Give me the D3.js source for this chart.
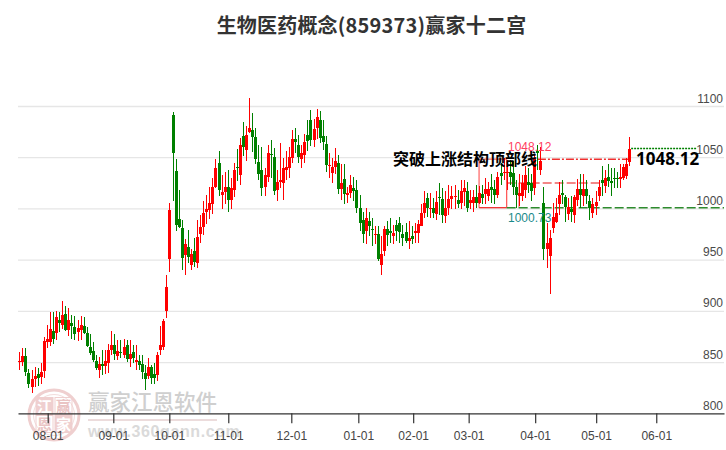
<!DOCTYPE html>
<html><head><meta charset="utf-8">
<script src="https://cdn.jsdelivr.net/npm/d3@7/dist/d3.min.js"></script>
<style>html,body{margin:0;padding:0;background:#fff}svg{display:block}</style>
</head><body><svg id="c" width="726" height="450"></svg>
<script>
const chartTitle = "生物医药概念(859373)赢家十二宫";
const opens  = [850,850,856,839,826,833,838,835,841,870,870,880,878,891,886,897,881,888,884,879,881,885,878,865,861,851,842,848,846,849,862,867,856,860,857,867,853,860,850,851,848,839,836,845,838,837,862,865,900,951,1091,1037,990,981,955,962,945,958,947,975,982,997,998,1004,1021,1044,1013,1016,1021,1008,1018,1040,1033,1071,1057,1075,1077,1070,1045,1038,1021,1031,1053,1050,1018,1026,1025,1038,1039,1049,1068,1062,1048,1052,1072,1086,1067,1079,1086,1071,1063,1042,1035,1040,1044,1019,1029,1013,1015,1020,1018,1000,989,978,988,980,974,975,945,958,980,978,973,984,986,975,977,968,973,976,976,983,996,1010,1000,1000,995,1011,1009,993,1000,1009,1012,1008,1005,1016,1017,1005,1005,1011,1005,1014,1014,1012,1021,1019,1013,1035,1035,1035,1036,1035,1021,1012,1012,1018,1026,1025,1020,1056,1038,1005,960,954,981,987,1004,1015,1011,995,999,994,1008,1019,1012,1019,1007,996,1002,1012,1028,1022,1031,1027,1030,1030,1029,1030,1032,1045];
const closes = [851,856,840,829,833,836,834,840,871,873,882,873,894,888,896,881,891,885,877,883,886,878,866,859,852,844,848,846,851,862,867,858,861,859,865,853,858,854,852,847,840,833,845,834,834,857,867,890,923,998,1054,984,982,952,965,953,956,948,972,982,996,999,1005,1021,1039,1018,1016,1021,1008,1020,1038,1039,1062,1060,1072,1079,1070,1048,1034,1020,1033,1054,1052,1017,1026,1028,1039,1040,1050,1068,1065,1050,1054,1065,1066,1067,1078,1089,1069,1065,1042,1042.5,1040,1046,1019,1025,1014,1015,1023,1017,1000,986,975,991,983,979,975,951,956,980,974,976,976,978,977,971,968,971,970,978,985,996,1005,1000,1000.5,996,1006,1010,994,1000,1009,1012,1012.5,1004,1017,1020,1000,1008,1011,1005,1015,1010,1019,1019,1018,1013,1031,1032,1036,1036,1031,1021,1013,1015,1025,1033,1023,1017,1048,1054,1046,960,966,971,992,996,1013,1013,1001,1001,997,1011,1019,1013,1019,1012,1000,1004,1006,1021,1025,1030,1027,1025,1029.5,1029,1031,1040,1043,1058];
const highs  = [860,864,864,843,842,845,844,849,874,886,899,899,900,899,910,905,903,896,895,891,895,894,884,877,870,857,855,862,862,868,880,877,872,872,873,872,872,867,867,857,857,847,854,847,849,860,885,892,935,1005,1094,1048,1018,989,970,979,960,971,989,994,1007,1013,1021,1030,1048,1056,1033,1036,1038,1030,1044,1058,1069,1084,1080,1108,1093,1079,1062,1060,1039,1062,1067,1059,1038,1064,1049,1056,1060,1077,1079,1072,1062,1073,1086,1096,1087,1097,1095,1086,1071,1054,1049,1059,1052,1043,1043,1021,1033,1031,1028,1013,997,1000,997,991,983,983,973,983,988,991,984,989,992,984,986,988,983,986,989,1004,1017,1015,1015,1010,1017,1025,1020,1017,1023,1022,1023,1018,1028,1028,1026,1018,1018,1023,1022,1023,1030,1026,1034,1028,1036,1044,1049,1047,1047,1046,1028,1034,1033,1041,1039,1034,1052,1062,1060,1021,986,979,1005,1010,1026,1028,1013,1010,1012,1013,1029,1034,1034,1028,1013,1010,1017,1028,1041,1038,1043,1039,1039,1036,1043,1043,1049,1070];
const lows   = [842,846,836,825,820,826,827,829,834,864,866,868,872,879,882,880,875,873,872,871,872,877,865,857,850,842,834,837,838,839,857,852,852,854,854,850,845,849,842,842,833,823,833,829,829,832,857,862,893,938,1007,978,981,940,935,947,940,943,942,966,974,985,990,995,1020,1012,999,1004,997,999,1011,1027,1023,1051,1046,1074,1055,1043,1028,1012,1012,1026,1030,1013,1007,1020,1008,1028,1030,1044,1054,1044,1039,1044,1056,1061,1060,1068,1064,1057,1036,1030,1025,1034,1014,1008,1004,1005,1010,1007,996,978,966,965,973,963,965,949,935,954,963,966,965,968,966,963,966,960,965,966,966,983,991,992,991,991,989,994,986,986,994,999,999,1000,999,1002,997,999,997,1000,1004,1004,1004,1007,1005,1004,1010,1023,1028,1018,1023,1013,1000,1002,1007,1010,1015,1007,1013,1038,1033,950,942,916,976,986,994,1004,987,989,987,986,1002,1000,1002,1004,989,991,994,1007,1012,1015,1021,1012,1020,1020,1020,1028,1029,1041];
const xTickIndex  = [9.27,30.67,48.94,68.18,88.74,110.6,128.5,146.6,168.3,188.2,207.8];
const xTickLabels = ["08-01","09-01","10-01","11-01","12-01","01-01","02-01","03-01","04-01","05-01","06-01"];
const yTicks = [800,850,900,950,1000,1050,1100];
const topLevel = 1048.12, midLevel = 1024.8, bottomLevel = 1000.73, lastLevel = 1058.5;
const callout = "突破上涨结构顶部线";
const sealChars = ["江","赢","恩","家"];

const svg = d3.select("#c");
const x = d3.scaleLinear().domain([-0.42,229.9]).range([18,724]);
const y = d3.scaleLinear().domain([800,1100]).range([413.3,106]);
const sans = "'Liberation Sans',Arial,sans-serif", cjk = "'Noto Sans CJK SC',sans-serif";

// watermark
const wm = svg.append("g");
const sx = 54, sy = 415;
wm.append("circle").attr("cx",sx).attr("cy",sy).attr("r",25).attr("fill","none").attr("stroke","#efcfcf").attr("stroke-width",3);
wm.append("circle").attr("cx",sx).attr("cy",sy).attr("r",20.5).attr("fill","none").attr("stroke","#f3dcdc").attr("stroke-width",1);
sealChars.forEach((ch,i)=>{
  const cx = sx + (i%2 ? 9.5 : -9.5), cy = sy + (i<2 ? -9 : 9);
  wm.append("rect").attr("x",cx-8.5).attr("y",cy-8.5).attr("width",17).attr("height",17).attr("fill",i%3? "none":"#efcfcf").attr("stroke","#efcfcf");
  wm.append("text").attr("x",cx).attr("y",cy+5.5).attr("text-anchor","middle").attr("font-family",cjk).attr("font-size",15).attr("font-weight",700).attr("fill",i%3?"#eac4c4":"#fff").text(ch);
});
wm.append("text").attr("x",88).attr("y",410).attr("font-family",cjk).attr("font-size",21.5).attr("font-weight",500).attr("fill","#cfcfcf").text("赢家江恩软件");
wm.append("line").attr("x1",88).attr("x2",217).attr("y1",420).attr("y2",420).attr("stroke","#ecdcdc").attr("stroke-width",2);
wm.append("text").attr("x",88).attr("y",437).attr("font-family",sans).attr("font-size",16).attr("font-weight",700).attr("letter-spacing",0.6).attr("fill","#dadada").text("www.360gann.com");

// horizontal grid + right labels
const ya = svg.append("g").attr("transform","translate(724,0)")
  .call(d3.axisLeft(y).tickValues(yTicks.slice(1)).tickSize(706).tickFormat(d3.format("d")));
ya.select(".domain").remove();
ya.selectAll("line").attr("stroke","#e6e6e6").attr("stroke-width",1.3);
ya.selectAll("text").remove();
svg.append("g").selectAll("text").data(yTicks).join("text")
  .attr("x",723).attr("y",d=>y(d)-3.4).attr("text-anchor","end")
  .attr("font-family",sans).attr("font-size",12).attr("fill","#4a4a4a").text(d=>d);

// bottom axis
const xa = svg.append("g").attr("transform",`translate(0,${y(800)})`)
  .call(d3.axisBottom(x).tickValues(xTickIndex).tickFormat((d,i)=>xTickLabels[i]).tickSize(10).tickSizeOuter(0));
xa.select(".domain").attr("stroke","#333").attr("stroke-width",1.2);
xa.selectAll("line").attr("stroke","#333").attr("stroke-width",1.2);
xa.selectAll("text").attr("font-family",sans).attr("font-size",12).attr("fill","#444").attr("dy","0.71em").attr("y",18);

// overlay lines below candles
const ov = svg.append("g");
const L = (i1,v1,i2,v2,col,w,dash,op)=>ov.append("line").attr("x1",x(i1)).attr("x2",x(i2)).attr("y1",y(v1)).attr("y2",y(v2))
  .attr("stroke",col).attr("stroke-width",w).attr("stroke-dasharray",dash||null).attr("opacity",op||1);
L(150,topLevel,159,topLevel,"#ff8080",1.5);
L(150,topLevel,150,bottomLevel,"#ff8080",1.5);
L(159,topLevel,159,bottomLevel,"#ff5050",1.2);
L(150,bottomLevel,159,bottomLevel,"#f03030",1.3);
L(163,midLevel,163,bottomLevel,"#ff8080",1.2);
L(159,midLevel,189.5,midLevel,"#f06060",1.5,"9 3");
L(159,bottomLevel,229.9,bottomLevel,"#2e8b2e",1.5,"9 3");

// candles
const idx = d3.range(opens.length);
const up = i=>closes[i]>=opens[i];
const col = i=>up(i)?"#ff0000":"#008000";
const cx = i=>Math.round(x(i));
const cg = svg.append("g").attr("shape-rendering","crispEdges");
cg.selectAll(".w").data(idx).join("line").attr("class","w")
  .attr("x1",i=>cx(i)+0.5).attr("x2",i=>cx(i)+0.5).attr("y1",i=>y(highs[i])).attr("y2",i=>y(lows[i]))
  .attr("stroke",col).attr("stroke-width",1);
cg.selectAll(".b").data(idx).join("rect").attr("class","b")
  .attr("x",i=>cx(i)-1).attr("width",3)
  .attr("y",i=>y(Math.max(opens[i],closes[i])))
  .attr("height",i=>Math.max(1,Math.abs(y(opens[i])-y(closes[i]))))
  .attr("fill",col);

// overlays above candles
L(169.2,topLevel,199.6,topLevel,"#f03030",1.5,"8 2 2 2");
L(199.6,lastLevel,221,lastLevel,"#008000",1.3,"2 1");

svg.append("text").attr("x",371.5).attr("y",33).attr("text-anchor","middle").attr("font-family",cjk).attr("font-size",20).attr("font-weight",700).attr("letter-spacing",0.2).attr("fill","#333").text(chartTitle);
svg.append("text").attr("x",393).attr("y",165).attr("font-family",cjk).attr("font-size",16).attr("font-weight",700).attr("fill","#000").text(callout);
svg.append("text").attr("x",508).attr("y",151).attr("font-family",sans).attr("font-size",12).attr("fill","#ff4060").text(topLevel.toFixed(2));
svg.append("text").attr("x",508).attr("y",222).attr("font-family",sans).attr("font-size",12).attr("fill","#1a8a8a").text(bottomLevel.toFixed(2));
svg.append("text").attr("x",636).attr("y",165).attr("font-family","'Noto Sans',sans-serif").attr("font-size",17).attr("font-weight",700).attr("fill","#000").text(topLevel.toFixed(2));
</script></body></html>
